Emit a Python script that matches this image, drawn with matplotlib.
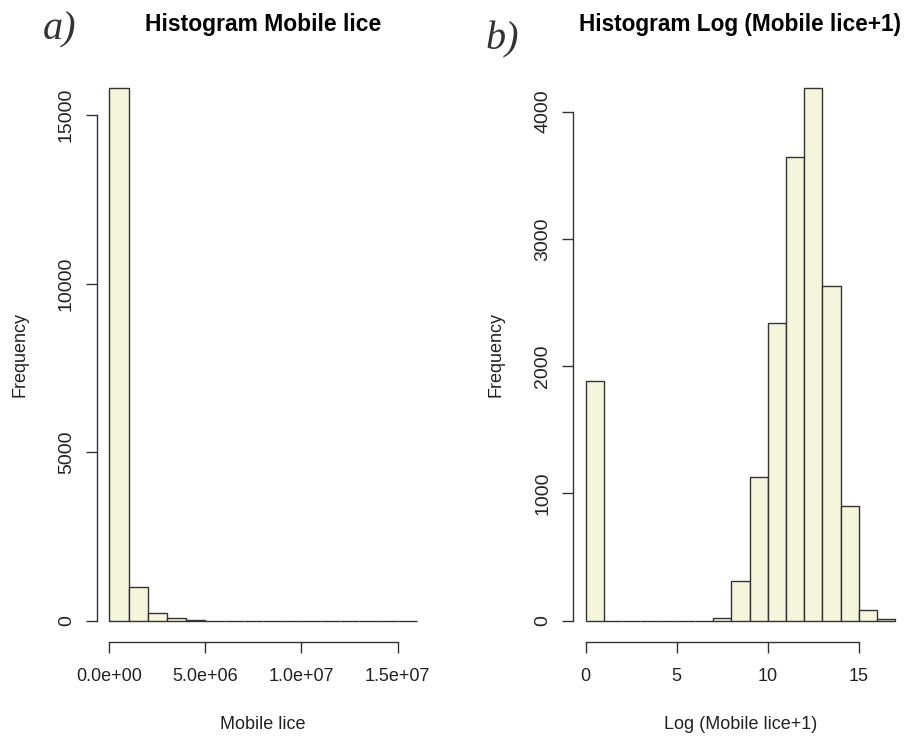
"""
Histograms of mobile lice counts, raw and log-transformed (R base-graphics look)
"""

import numpy as np
import matplotlib.pyplot as plt

# bin edges and counts
raw_edges = np.arange(0, 17e6, 1e6)
raw_counts = [15800, 990, 220, 80, 30, 0, 0, 0, 0, 0, 0, 0, 0, 0, 0, 0]
raw_xticks = [0, 5e6, 1e7, 1.5e7]
raw_xticklabels = ['0.0e+00', '5.0e+06', '1.0e+07', '1.5e+07']
raw_yticks = [0, 5000, 10000, 15000]

log_edges = np.arange(0, 18, 1)
log_counts = [1886, 0, 0, 0, 0, 0, 0, 22, 312, 1127, 2339, 3640, 4183, 2628, 900, 87, 10]
log_xticks = [0, 5, 10, 15]
log_yticks = [0, 1000, 2000, 3000, 4000]

FONT = ['Liberation Sans', 'DejaVu Sans']
FILL = '#F5F5DC'
EDGE = '#333333'


def r_hist(ax, edges, counts, xticks, yticks, xticklabels=None):
    """Draw a histogram the way R's hist() does"""
    edges = np.asarray(edges, dtype=float)
    widths = np.diff(edges)
    ax.bar(edges[:-1], counts, width=widths, align='edge',
           color=FILL, edgecolor=EDGE, linewidth=1.0)

    # 4% padding like R's default xaxs/yaxs = "r"
    xr = edges[-1] - edges[0]
    ax.set_xlim(edges[0] - 0.04 * xr, edges[-1] + 0.04 * xr)
    yr = max(counts)
    ax.set_ylim(-0.04 * yr, yr * 1.04)

    for side in ['top', 'right']:
        ax.spines[side].set_visible(False)
    ax.spines['left'].set_bounds(yticks[0], yticks[-1])
    ax.spines['bottom'].set_bounds(xticks[0], xticks[-1])
    for side in ['left', 'bottom']:
        ax.spines[side].set_color(EDGE)
        ax.spines[side].set_linewidth(1.0)

    ax.set_xticks(xticks)
    if xticklabels is not None:
        ax.set_xticklabels(xticklabels)
    ax.set_yticks(yticks)
    ax.set_yticklabels([str(t) for t in yticks], rotation=90, va='center')
    ax.tick_params(axis='both', direction='out', length=8, width=1.0,
                   color=EDGE, labelcolor='#222222')
    ax.tick_params(axis='x', pad=11, labelsize=13)
    ax.tick_params(axis='y', pad=8, labelsize=14)


def main():
    plt.rcParams['font.family'] = FONT
    fig = plt.figure(figsize=(9.11, 7.39), dpi=100)

    ax1 = fig.add_axes([0.1065, 0.1313, 0.3645, 0.778])
    ax2 = fig.add_axes([0.6293, 0.1313, 0.3669, 0.778])

    r_hist(ax1, raw_edges, raw_counts, raw_xticks, raw_yticks, raw_xticklabels)
    r_hist(ax2, log_edges, log_counts, log_xticks, log_yticks)

    ax1.set_title('Histogram Mobile lice', fontsize=16.5, fontweight='bold', pad=26)
    ax2.set_title('Histogram Log (Mobile lice+1)', fontsize=16.3, fontweight='bold', pad=26)

    ax1.set_xlabel('Mobile lice', fontsize=13, labelpad=22, color='#222222')
    ax2.set_xlabel('Log (Mobile lice+1)', fontsize=13, labelpad=22, color='#222222')
    ax1.set_ylabel('Frequency', fontsize=13, labelpad=21, color='#222222')
    ax2.set_ylabel('Frequency', fontsize=13, labelpad=21, color='#222222')

    # panel letters
    fig.text(60 / 911, 1 - 30 / 739, 'a)', family='Liberation Serif', style='italic',
             fontsize=29, ha='center', va='center', color='#333333')
    fig.text(502 / 911, 1 - 40 / 739, 'b)', family='Liberation Serif', style='italic',
             fontsize=29, ha='center', va='center', color='#333333')

    plt.savefig('out.png', dpi=100, facecolor='white')


if __name__ == '__main__':
    main()
